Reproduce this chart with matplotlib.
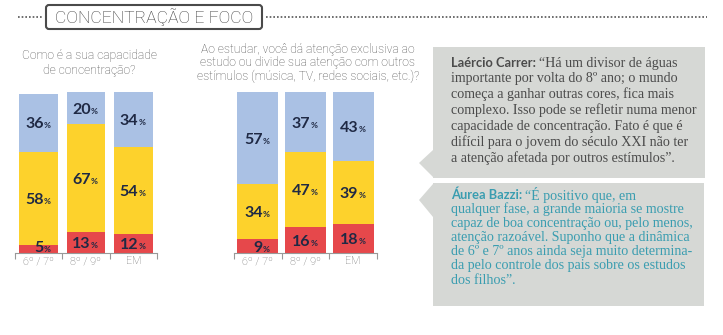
import matplotlib.pyplot as plt
from matplotlib.patches import FancyBboxPatch, Rectangle, Polygon

W, H = 723, 335

# data
groups = ["6º / 7º", "8º / 9º", "EM"]
conc_low = [5, 13, 12]
conc_mid = [58, 67, 54]
conc_high = [36, 20, 34]
att_low = [9, 16, 18]
att_mid = [34, 47, 39]
att_high = [57, 37, 43]

title1 = "Como é a sua capacidade\nde concentração?"
title2 = ("Ao estudar, você dá atenção exclusiva ao\n"
          "estudo ou divide sua atenção com outros\n"
          "estímulos (música, TV, redes sociais, etc.)?")

quote1_name = "Laércio Carrer:"
quote1 = ["“Há um divisor de águas",
          "importante por volta do 8º ano; o mundo",
          "começa a ganhar outras cores, fica mais",
          "complexo. Isso pode se refletir numa menor",
          "capacidade de concentração. Fato é que é",
          "difícil para o jovem do século XXI não ter",
          "a atenção afetada por outros estímulos”."]
quote2_name = "Áurea Bazzi:"
quote2 = ["“É positivo que, em",
          "qualquer fase, a grande maioria se mostre",
          "capaz de boa concentração ou, pelo menos,",
          "atenção razoável. Suponho que a dinâmica",
          "de 6º e 7º anos ainda seja muito determina-",
          "da pelo controle dos pais sobre os estudos",
          "dos filhos”."]

BLUE = "#aac1e4"
YELLOW = "#fdd22c"
RED = "#e6484b"
NAVY = "#1f2944"
GRAY_BOX = "#d6d8d5"

fig = plt.figure(figsize=(W / 100, H / 100), dpi=100)
bg = fig.add_axes([0, 0, 1, 1])
bg.set_xlim(0, W)
bg.set_ylim(H, 0)
bg.axis("off")

# header
bg.add_patch(FancyBboxPatch((46, 5), 216, 24, boxstyle="round,pad=0,rounding_size=3",
                            fc="white", ec="#4a4a4a", lw=1.5))
bg.text(154.5, 17.5, "CONCENTRAÇÃO E FOCO", ha="center", va="center",
        fontsize=12.6, color="#3a3a3a", family="Roboto", weight="light")
bg.plot([18, 43], [17, 17], ls=(0, (1, 1.2)), color="#555555", lw=1.2)
bg.plot([266, 707], [17, 17], ls=(0, (1, 1.2)), color="#555555", lw=1.2)

# chart titles
bg.text(89, 63, title1, ha="center", va="center", multialignment="center",
        fontsize=8.7, color="#505050", family="Roboto", weight="light",
        linespacing=1.15)
bg.text(308, 63, title2, ha="center", va="center", multialignment="center",
        fontsize=8.7, color="#505050", family="Roboto", weight="light",
        linespacing=1.05)


def chart(x0, x1, width, low, mid, high):
    ax = fig.add_axes([x0 / W, 1 - 253 / H, (x1 - x0) / W, 161 / H])
    xs = range(len(groups))
    ax.bar(xs, low, width=width, color=RED)
    b2 = [l for l in low]
    ax.bar(xs, mid, width=width, bottom=b2, color=YELLOW)
    b3 = [l + m for l, m in zip(low, mid)]
    ax.bar(xs, high, width=width, bottom=b3, color=BLUE)
    ax.set_xlim(-0.5, 2.5)
    ax.set_ylim(0, 100)
    for s in ["top", "right", "left"]:
        ax.spines[s].set_visible(False)
    ax.spines["bottom"].set_color("#999999")
    ax.spines["bottom"].set_linewidth(0.8)
    ax.set_yticks([])
    ax.set_xticks([-0.5, 0.5, 1.5, 2.5])
    ax.set_xticklabels([])
    ax.tick_params(axis="x", length=4, color="#999999", width=0.8)
    ax.set_xticks(list(xs), minor=True)
    ax.set_xticklabels(groups, minor=True, fontsize=7.8, color="#707070",
                       family="Roboto", weight="light")
    ax.tick_params(axis="x", which="minor", length=0, pad=2.5)
    ax.patch.set_alpha(0)
    for i in xs:
        segs = [(0, low[i]), (low[i], mid[i]), (low[i] + mid[i], high[i])]
        for b, v in segs:
            yc = max(b + v / 2, 4.5)
            ax.annotate(str(v), (i, yc), xytext=(3.5, -4.2), textcoords="offset points",
                        ha="right", va="baseline", fontsize=11.5, weight="bold",
                        color=NAVY, family="Lato")
            ax.annotate("%", (i, yc), xytext=(3.6, -4.2), textcoords="offset points",
                        ha="left", va="baseline", fontsize=6, weight="bold",
                        color=NAVY, family="Lato")
    return ax


chart(15, 157, 0.82, conc_low, conc_mid, conc_high)
chart(234, 377, 0.86, att_low, att_mid, att_high)

# quote boxes
bg.add_patch(Rectangle((433, 47), 272, 131, fc=GRAY_BOX, ec="none"))
bg.add_patch(Polygon([(433, 150), (419, 163), (433, 177)], fc=GRAY_BOX, ec="none"))
bg.add_patch(Rectangle((433, 183), 271, 123, fc=GRAY_BOX, ec="none"))
bg.add_patch(Polygon([(433, 184), (419, 200), (433, 217)], fc=GRAY_BOX, ec="none"))

fig.canvas.draw()
renderer = fig.canvas.get_renderer()


def quote(x, y0, dy, name, lines, color):
    t = bg.text(x, y0, name, ha="left", va="center", fontsize=9.3, weight="bold",
                color=color, family="Lato")
    ext = t.get_window_extent(renderer)
    xe = x + ext.width + 3
    for k, line in enumerate(lines):
        bg.text(xe if k == 0 else x, y0 + k * dy, line, ha="left", va="center",
                fontsize=10.1, color=color, family="Liberation Serif")


quote(451, 63, 15.8, quote1_name, quote1, "#4b4b4b")
quote(451, 195, 14.2, quote2_name, quote2, "#3a9db0")

fig.savefig("out.png", dpi=100)
